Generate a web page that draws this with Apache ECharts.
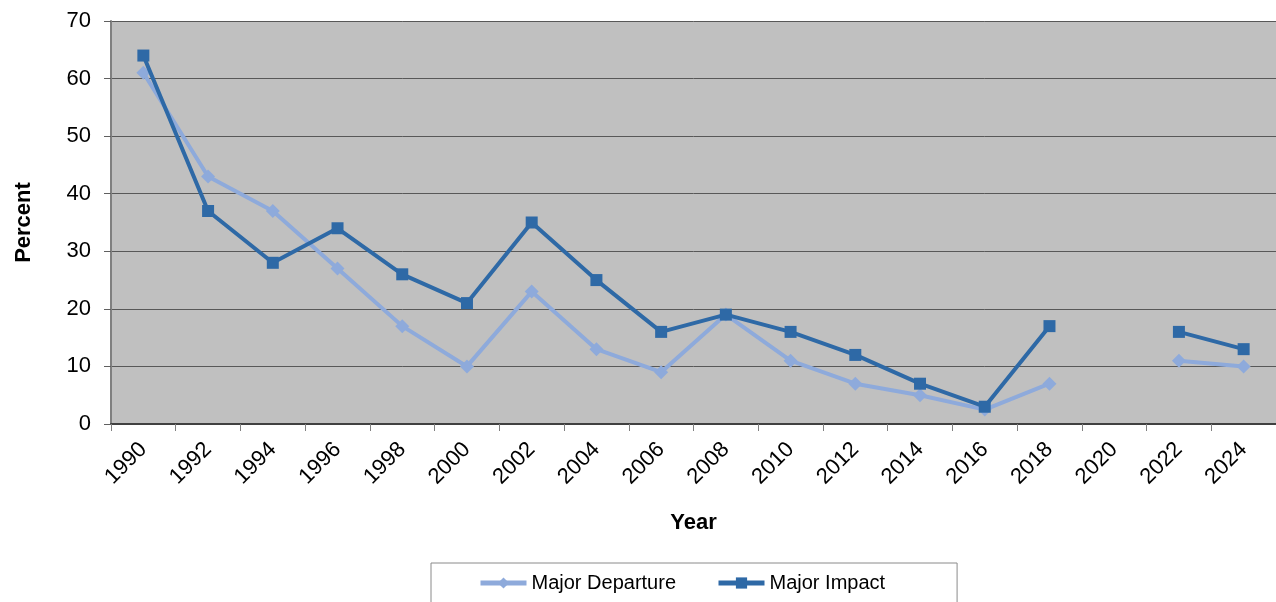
<!DOCTYPE html>
<html>
<head>
<meta charset="utf-8">
<title>Major Departure and Major Impact by Year</title>
<script src="https://cdn.jsdelivr.net/npm/echarts@6/dist/echarts.min.js"></script>
<style>
  html, body { margin: 0; padding: 0; background: #ffffff; }
  #chart { width: 1276px; height: 602px; }
</style>
</head>
<body>
<div id="chart"></div>
<script>
// Survey years (one band per label; 2020 has no data)
const years = ['1990', '1992', '1994', '1996', '1998', '2000', '2002', '2004', '2006',
               '2008', '2010', '2012', '2014', '2016', '2018', '2020', '2022', '2024'];

// Percent reporting a major departure
const majorDeparture = [61, 43, 37, 27, 17, 10, 23, 13, 9, 19, 11, 7, 5, 2.5, 7, null, 11, 10];

// Percent reporting a major impact
const majorImpact = [64, 37, 28, 34, 26, 21, 35, 25, 16, 19, 16, 12, 7, 3, 17, null, 16, 13];

// Y axis range
const yMin = 0, yMax = 70, yStep = 10;

const font = 'Liberation Sans, Arial, sans-serif';
const lightBlue = '#8eaadb';
const darkBlue = '#2e69a6';

const chart = echarts.init(document.getElementById('chart'), null, { renderer: 'canvas' });

chart.setOption({
  animation: false,
  textStyle: { fontFamily: font },
  grid: {
    left: 111, top: 21, right: 0, bottom: 178,
    show: true, backgroundColor: '#c0c0c0', borderWidth: 0
  },
  legend: {
    top: 563,
    left: 431,
    padding: [10, 72, 30, 47],
    borderColor: '#8a8a8a',
    borderWidth: 1,
    itemWidth: 46,
    itemHeight: 14,
    itemGap: 40,
    textStyle: { fontFamily: font, fontSize: 20, color: '#000' },
    data: [
      { name: 'Major Departure', lineStyle: { width: 5 } },
      { name: 'Major Impact', lineStyle: { width: 5 } }
    ]
  },
  xAxis: {
    type: 'category',
    data: years,
    boundaryGap: true,
    name: 'Year',
    nameLocation: 'middle',
    nameGap: 88,
    nameTextStyle: { fontFamily: font, fontSize: 22, fontWeight: 'bold', color: '#000' },
    axisLine: { show: true, lineStyle: { color: '#404040', width: 2 } },
    axisTick: { show: true, length: 7, lineStyle: { color: '#808080', width: 1 } },
    axisLabel: { rotate: 45, fontSize: 22, color: '#000', margin: 22, interval: 0 },
    splitLine: { show: false }
  },
  yAxis: {
    type: 'value',
    min: yMin, max: yMax, interval: yStep,
    name: 'Percent',
    nameLocation: 'middle',
    nameRotate: 90,
    nameGap: 76,
    nameTextStyle: { fontFamily: font, fontSize: 22, fontWeight: 'bold', color: '#000' },
    axisLine: { show: true, lineStyle: { color: '#808080', width: 2 } },
    axisTick: { show: true, length: 7, lineStyle: { color: '#606060', width: 1 } },
    axisLabel: { fontSize: 22, color: '#000', margin: 20 },
    splitLine: { show: true, lineStyle: { color: '#585858', width: 1 } }
  },
  series: [
    {
      name: 'Major Departure',
      type: 'line',
      data: majorDeparture,
      connectNulls: false,
      symbol: 'diamond',
      symbolSize: 14,
      itemStyle: { color: lightBlue },
      lineStyle: { color: lightBlue, width: 4 },
      z: 2
    },
    {
      name: 'Major Impact',
      type: 'line',
      data: majorImpact,
      connectNulls: false,
      symbol: 'rect',
      symbolSize: 12,
      itemStyle: { color: darkBlue },
      lineStyle: { color: darkBlue, width: 4 },
      z: 3
    }
  ]
});
</script>
</body>
</html>
